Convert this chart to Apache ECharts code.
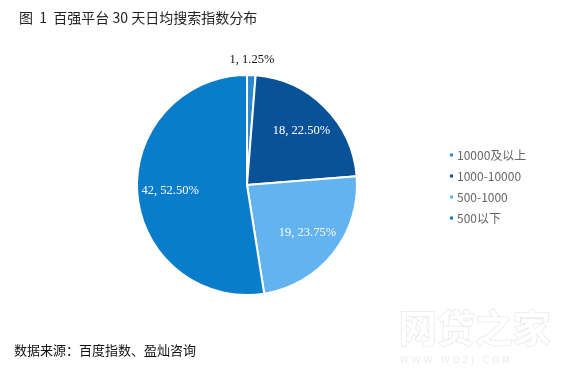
<!DOCTYPE html>
<html>
<head>
<meta charset="utf-8">
<script src="https://cdn.jsdelivr.net/npm/echarts@6/dist/echarts.min.js"></script>
<style>
html,body{margin:0;padding:0;background:#fff;}
#chart{width:572px;height:376px;}
</style>
</head>
<body>
<div id="chart"></div>
<script>
// 百强平台 30 天日均搜索指数分布
var categories = ['10000及以上', '1000-10000', '500-1000', '500以下'];
var counts = [1, 18, 19, 42];
var percents = ['1.25%', '22.50%', '23.75%', '52.50%'];
var colors = ['#2a89d3', '#0a5297', '#62b3ef', '#0a7dca'];

var mycharts = echarts.init(document.getElementById('chart'));

var pieData = categories.map(function (name, i) {
  return { name: name, value: counts[i], pct: percents[i], itemStyle: { color: colors[i] } };
});

function labelText(p) {
  return p.data.value + ', ' + p.data.pct;
}

var options = {
  animation: false,
  title: {
    text: '图\u00a0\u00a01\u00a0\u00a0百强平台 30 天日均搜索指数分布',
    left: 14,
    top: 6,
    textStyle: { fontSize: 14, fontWeight: 'normal', color: '#222', fontFamily: 'Noto Sans CJK SC' }
  },
  legend: {
    orient: 'vertical',
    left: 443,
    top: 144,
    itemWidth: 5,
    itemHeight: 5,
    itemGap: 9,
    icon: 'rect',
    data: categories,
    textStyle: { fontSize: 12, color: '#666', fontFamily: 'Noto Sans CJK SC', padding: [0, 0, 0, -2] }
  },
  graphic: [
    {
      type: 'text', left: 14, top: 344,
      style: { text: '数据来源：百度指数、盈灿咨询', fontSize: 13, fill: '#111', fontFamily: 'Noto Sans CJK SC' }
    },
    {
      type: 'text', left: 398, top: 308,
      style: { text: '网贷之家', fontSize: 38, fontWeight: 'bold', fill: '#fff', stroke: '#e8e8e8', lineWidth: 1.5, fontFamily: 'Noto Sans CJK SC' }
    },
    {
      type: 'text', left: 400, top: 356,
      style: { text: 'W W W . W D Z J . C O M', fontSize: 9, fill: '#ececec', fontFamily: 'DejaVu Sans' }
    }
  ],
  series: [
    {
      // 饼图本体
      type: 'pie',
      center: [247, 185],
      radius: [0, 110],
      startAngle: 90,
      clockwise: true,
      avoidLabelOverlap: false,
      label: { show: false },
      labelLine: { show: false },
      itemStyle: { borderColor: '#fff', borderWidth: 2 },
      emphasis: { disabled: true },
      data: pieData
    },
    {
      // 扇区内的标签
      type: 'pie',
      center: [247, 185],
      radius: [0, 148],
      startAngle: 90,
      silent: true,
      avoidLabelOverlap: false,
      itemStyle: { color: 'rgba(0,0,0,0)' },
      label: {
        show: true, position: 'inside', formatter: labelText,
        color: '#fff', fontSize: 12.5, fontFamily: 'Liberation Serif', textBorderWidth: 0
      },
      labelLine: { show: false },
      emphasis: { disabled: true },
      data: pieData.map(function (d, i) {
        return { name: d.name, value: d.value, pct: d.pct, label: { show: i > 0 } };
      })
    },
    {
      // 最小扇区的外部标签
      type: 'pie',
      center: [247, 185],
      radius: [0, 244],
      startAngle: 90,
      silent: true,
      avoidLabelOverlap: false,
      itemStyle: { color: 'rgba(0,0,0,0)' },
      label: {
        show: true, position: 'inside', formatter: labelText,
        color: '#111', fontSize: 12.5, fontFamily: 'Liberation Serif', textBorderWidth: 0
      },
      labelLine: { show: false },
      emphasis: { disabled: true },
      data: pieData.map(function (d, i) {
        return { name: d.name, value: d.value, pct: d.pct, label: { show: i === 0 } };
      })
    }
  ]
};
mycharts.setOption(options, true);
window.addEventListener('resize', function () { mycharts.resize(); });
</script>
</body>
</html>
